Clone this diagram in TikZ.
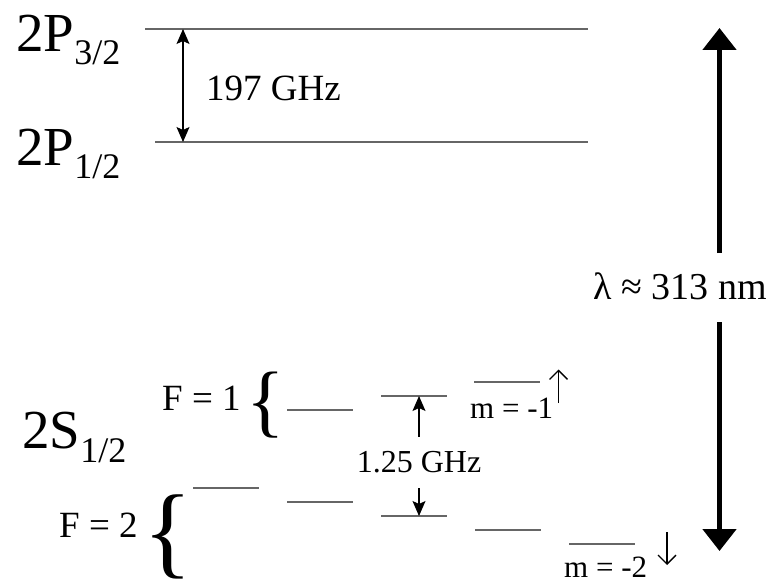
\documentclass[tikz,border=0pt]{standalone}
\usepackage{fontspec}
\setmainfont{Liberation Serif}
\usetikzlibrary{arrows.meta}
\newcommand{\fsz}[1]{\fontsize{#1}{#1}\selectfont}
\begin{document}
\begin{tikzpicture}[x=1pt,y=-1pt,
  level/.style={draw=black!60, line width=1.3pt},
  lbl/.style={inner sep=0pt, anchor=base west},
  thinarrow/.style={line width=1.1pt, -{Stealth[length=15pt,width=13pt,inset=3pt]}},
  spinarrow/.style={line width=1.3pt, -{Straight Barb[length=9pt,width=18pt,line width=1.3pt]}},
  bigarrow/.style={line width=5pt, -{Triangle[length=22pt,width=33pt]}}]
\useasboundingbox (0,0) rectangle (775,586);

% 2P levels
\coordinate (p3l) at (145,29); \coordinate (p3r) at (588,29);
\coordinate (p1l) at (155,142); \coordinate (p1r) at (588,142);
\draw[level] (p3l) -- (p3r);
\draw[level] (p1l) -- (p1r);
\coordinate (a3) at (183,29); \coordinate (a1) at (183,142);
\draw[thinarrow, {Stealth[length=15pt,width=13pt,inset=3pt]}-{Stealth[length=15pt,width=13pt,inset=3pt]}] (a3) -- (a1);

\node[lbl, font=\fsz{55}] (P32) at (16,52) {2P{\fsz{36}\raisebox{-13pt}{3/2}}};
\node[lbl, font=\fsz{55}] (P12) at (16,165) {2P{\fsz{36}\raisebox{-13pt}{1/2}}};
\node[lbl, font=\fsz{37}] (g197) at (206,100) {197 GHz};
\node[lbl, font=\fsz{55}] (S12) at (22,448) {2S{\fsz{36}\raisebox{-14pt}{1/2}}};

% hyperfine levels
\foreach \n/\x/\y in {f1a/287/410, f1b/381/396, f1c/474/382,
                      f2a/193/488, f2b/287/502, f2c/381/516, f2d/475/530, f2e/569/544}
  {\draw[level] (\x,\y) coordinate (\n l) -- ++(66,0) coordinate (\n r);}

\node[lbl, font=\fsz{37}] (F1) at (162,410) {F = 1};
\node[lbl, font=\fsz{37}] (F2) at (59,537) {F = 2};
\node[lbl, font=\fsz{80}] (B1) at (246,427) {\{};
\node[lbl, font=\fsz{102}] (B2) at (143,565) {\{};
\node[lbl, font=\fsz{31}] (m1) at (470,418) {m = -1};
\node[lbl, font=\fsz{31}] (m2) at (564,577) {m = -2};

% spin arrows
\coordinate (u0) at (558.5,403); \coordinate (u1) at (558.5,369.5);
\coordinate (d0) at (667,532); \coordinate (d1) at (667,565);
\draw[spinarrow] (u0) -- (u1);
\draw[spinarrow] (d0) -- (d1);

% 1.25 GHz splitting
\node[font=\fsz{32}, inner sep=0pt, minimum height=51pt] (ghz) at (419,462.5) {1.25 GHz};
\draw[thinarrow] (ghz.north) -- (ghz.north |- f1bl);
\draw[thinarrow] (ghz.south) -- (ghz.south |- f2cl);

% optical transition
\node[lbl, font=\fsz{38}] (lam) at (593,299) {λ ≈ 313 nm};
\coordinate (s1) at (719.5,253); \coordinate (tt) at (719.5,28);
\coordinate (s2) at (719.5,322); \coordinate (tb) at (719.5,551);
\draw[bigarrow] (s1) -- (tt);
\draw[bigarrow] (s2) -- (tb);
\end{tikzpicture}
\end{document}
